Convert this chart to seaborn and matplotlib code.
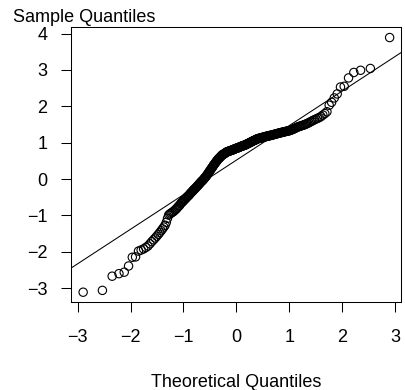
import matplotlib
matplotlib.use("Agg")
import matplotlib.pyplot as plt
import numpy as np
import pandas as pd
import seaborn as sns
from statistics import NormalDist

# Sorted sample values
sample_quantiles = [
    -3.11, -3.06, -2.67, -2.60, -2.56, -2.39, -2.15, -2.14, -1.98, -1.95,
    -1.92, -1.88, -1.84, -1.78, -1.72, -1.67, -1.62, -1.57, -1.52, -1.47,
    -1.42, -1.37, -1.32, -1.27, -1.19, -1.08, -0.99, -0.96, -0.94, -0.92,
    -0.90, -0.88, -0.85, -0.83, -0.80, -0.77, -0.74, -0.72, -0.68, -0.65,
    -0.63, -0.61, -0.58, -0.56, -0.54, -0.51, -0.49, -0.47, -0.45, -0.43,
    -0.40, -0.38, -0.36, -0.34, -0.32, -0.29, -0.28, -0.26, -0.24, -0.22,
    -0.20, -0.18, -0.16, -0.14, -0.12, -0.10, -0.08, -0.06, -0.05, -0.03,
    -0.01, 0.01, 0.03, 0.05, 0.07, 0.09, 0.11, 0.14, 0.16, 0.18,
    0.21, 0.23, 0.25, 0.28, 0.30, 0.32, 0.34, 0.37, 0.39, 0.41,
    0.43, 0.45, 0.47, 0.49, 0.51, 0.53, 0.55, 0.56, 0.58, 0.59,
    0.61, 0.62, 0.64, 0.65, 0.67, 0.67, 0.68, 0.69, 0.70, 0.71,
    0.72, 0.73, 0.74, 0.75, 0.75, 0.76, 0.76, 0.77, 0.77, 0.78,
    0.78, 0.79, 0.79, 0.80, 0.80, 0.81, 0.81, 0.82, 0.83, 0.83,
    0.84, 0.84, 0.85, 0.85, 0.86, 0.86, 0.87, 0.87, 0.88, 0.89,
    0.89, 0.90, 0.90, 0.91, 0.91, 0.92, 0.92, 0.93, 0.93, 0.94,
    0.94, 0.95, 0.96, 0.97, 0.97, 0.98, 0.99, 0.99, 1.00, 1.01,
    1.02, 1.02, 1.03, 1.04, 1.05, 1.05, 1.06, 1.07, 1.07, 1.08,
    1.09, 1.10, 1.10, 1.11, 1.11, 1.12, 1.12, 1.12, 1.13, 1.13,
    1.14, 1.14, 1.15, 1.15, 1.15, 1.16, 1.16, 1.17, 1.17, 1.18,
    1.18, 1.18, 1.19, 1.19, 1.20, 1.20, 1.20, 1.21, 1.21, 1.22,
    1.22, 1.23, 1.23, 1.24, 1.24, 1.25, 1.25, 1.26, 1.26, 1.27,
    1.27, 1.28, 1.28, 1.29, 1.29, 1.30, 1.30, 1.31, 1.31, 1.32,
    1.32, 1.33, 1.33, 1.34, 1.35, 1.36, 1.37, 1.38, 1.39, 1.41,
    1.42, 1.43, 1.44, 1.45, 1.46, 1.47, 1.48, 1.49, 1.50, 1.52,
    1.53, 1.55, 1.57, 1.59, 1.61, 1.63, 1.65, 1.67, 1.69, 1.72,
    1.76, 1.80, 1.85, 2.03, 2.11, 2.23, 2.34, 2.53, 2.55, 2.78,
    2.93, 2.99, 3.04, 3.89,
]

# Reference line (qqline)
line_intercept = 0.52
line_slope = 0.95

x_ticks = [-3, -2, -1, 0, 1, 2, 3]
y_ticks = [-3, -2, -1, 0, 1, 2, 3, 4]
x_label = "Theoretical Quantiles"
y_label = "Sample Quantiles"

# Theoretical normal quantiles (R's ppoints)
n = len(sample_quantiles)
a = 3 / 8 if n <= 10 else 0.5
probs = [(i + 1 - a) / (n + 1 - 2 * a) for i in range(n)]
theoretical = [NormalDist().inv_cdf(p) for p in probs]
df = pd.DataFrame({"theoretical": theoretical, "sample": sorted(sample_quantiles)})

sns.set_theme(style="white")
plt.rcParams["font.family"] = ["Liberation Sans", "DejaVu Sans"]

fig = plt.figure(figsize=(4.05, 3.9), dpi=100)
ax = fig.add_axes([0.1746, 0.2256, 0.8155, 0.7052])

sns.scatterplot(data=df, x="theoretical", y="sample", ax=ax, marker="o",
                s=36, facecolors="none", edgecolor="black", linewidth=0.8)
ax.axline((0, line_intercept), slope=line_slope, color="black", lw=0.75)

ax.set_xlim(-3.13, 3.11)
ax.set_ylim(-3.38, 4.18)
ax.set_xticks(x_ticks)
ax.set_yticks(y_ticks)

for s in ax.spines.values():
    s.set_color("black")
    s.set_linewidth(0.75)
    s.set_visible(True)

ax.tick_params(axis="both", which="major", bottom=True, left=True, direction="out",
               length=7.2, width=0.75, color="black", labelsize=13, labelcolor="black")
ax.tick_params(axis="x", pad=12.5)
ax.tick_params(axis="y", pad=9.5)

ax.set_xlabel(x_label, fontsize=13, color="black")
ax.xaxis.set_label_coords(0.5, -0.262)
ax.set_ylabel(y_label, fontsize=13, color="black", rotation=0, ha="left", va="baseline")
ax.yaxis.set_label_coords(-0.1756, 1.019)

fig.savefig("out.png", dpi=100)
